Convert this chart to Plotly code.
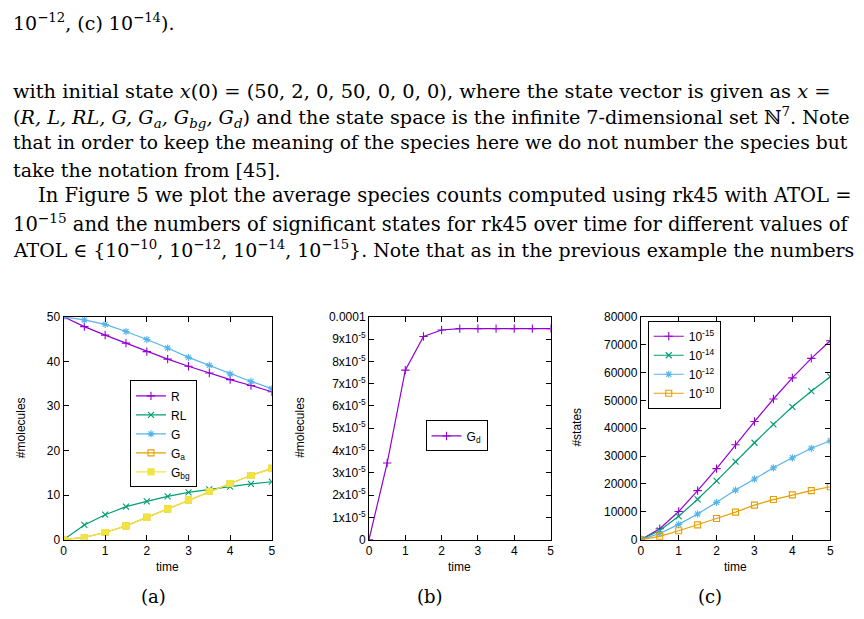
import plotly.graph_objects as go

W, H = 864, 619

# ---------------- data ----------------
t = [0, 0.5, 1, 1.5, 2, 2.5, 3, 3.5, 4, 4.5, 5]

R   = [50, 47.8, 45.9, 44.1, 42.2, 40.5, 38.9, 37.4, 35.9, 34.6, 33.2]
RL  = [0, 3.3, 5.6, 7.4, 8.6, 9.7, 10.6, 11.3, 11.9, 12.5, 13.0]
G   = [50, 49.3, 48.3, 46.7, 44.9, 43.0, 40.9, 39.1, 37.2, 35.5, 33.9]
Ga  = [0, 0.5, 1.6, 3.1, 5.0, 6.9, 8.9, 10.8, 12.6, 14.4, 16.0]
Gbg = [0, 0.5, 1.6, 3.1, 5.0, 6.9, 8.9, 10.8, 12.6, 14.4, 16.0]

Gd = [0, 3.44e-5, 7.61e-5, 9.12e-5, 9.41e-5, 9.47e-5, 9.47e-5, 9.47e-5, 9.47e-5, 9.47e-5, 9.47e-5]

S15 = [0, 3900, 10100, 17600, 25500, 34100, 42400, 50500, 58100, 65100, 71400]
S14 = [0, 3300, 8400, 14500, 21100, 28000, 34800, 41400, 47700, 53300, 58500]
S12 = [0, 2200, 5500, 9200, 13400, 17800, 21800, 25800, 29400, 32800, 35500]
S10 = [0, 1200, 3200, 5300, 7600, 9900, 12400, 14400, 16100, 17600, 19000]

gd_ticks = [0, 1e-5, 2e-5, 3e-5, 4e-5, 5e-5, 6e-5, 7e-5, 8e-5, 9e-5, 1e-4]
gd_ticktext = ["0"] + [f"{i}x10<sup>-5</sup>" for i in range(1, 10)] + ["0.0001"]

# ---------------- style ----------------
PURPLE, GREEN, BLUE, ORANGE, YELLOW = "#9400D3", "#009E73", "#56B4E9", "#E69F00", "#F0E442"
SANS = "Liberation Sans"
SERIF = "DejaVu Serif"

def px(x):
    return x / W

def py(y):
    return 1 - y / H

fig = go.Figure()

def add(x, y, name, color, symbol, xa, ya, legend, size=6):
    fig.add_trace(go.Scatter(
        x=x, y=y, name=name, mode="lines+markers", xaxis=xa, yaxis=ya, legend=legend,
        line=dict(color=color, width=1.2),
        marker=dict(symbol=symbol, size=size, color=color, line=dict(color=color, width=1.1)),
    ))

add(t, R, "R", PURPLE, "cross-thin", "x", "y", "legend")
add(t, RL, "RL", GREEN, "x-thin", "x", "y", "legend")
add(t, G, "G", BLUE, "asterisk", "x", "y", "legend")
add(t, Ga, "G<sub>a</sub>", ORANGE, "square-open", "x", "y", "legend", 6)
add(t, Gbg, "G<sub>bg</sub>", YELLOW, "square", "x", "y", "legend", 6)

add(t, Gd, "G<sub>d</sub>", PURPLE, "cross-thin", "x2", "y2", "legend2")

add(t, S15, "10<sup>-15</sup>", PURPLE, "cross-thin", "x3", "y3", "legend3")
add(t, S14, "10<sup>-14</sup>", GREEN, "x-thin", "x3", "y3", "legend3")
add(t, S12, "10<sup>-12</sup>", BLUE, "asterisk", "x3", "y3", "legend3")
add(t, S10, "10<sup>-10</sup>", ORANGE, "square-open", "x3", "y3", "legend3", 6)

axcommon = dict(showline=True, mirror="allticks", ticks="inside", ticklen=5, linecolor="black",
                linewidth=1, tickcolor="black", showgrid=False, zeroline=False,
                tickfont=dict(family=SANS, size=12, color="black"))

ytop, ybot = py(317), py(545)
legstyle = dict(xanchor="left", yanchor="top", bordercolor="black", borderwidth=1, bgcolor="white",
                font=dict(family=SANS, size=12, color="black"), itemwidth=30, tracegroupgap=0)
fig.update_layout(
    width=W, height=H, margin=dict(l=0, r=0, t=0, b=0),
    paper_bgcolor="white", plot_bgcolor="white",
    xaxis=dict(domain=[px(61), px(271)], range=[0, 5], dtick=1, anchor="y", **axcommon),
    yaxis=dict(domain=[ybot, ytop], range=[0, 50], dtick=10, anchor="x", **axcommon),
    xaxis2=dict(domain=[px(369), px(552)], range=[0, 5], dtick=1, anchor="y2", **axcommon),
    yaxis2=dict(domain=[ybot, ytop], range=[0, 1e-4], tickvals=gd_ticks, ticktext=gd_ticktext,
                anchor="x2", **axcommon),
    xaxis3=dict(domain=[px(643), px(834)], range=[0, 5], dtick=1, anchor="y3", **axcommon),
    yaxis3=dict(domain=[ybot, ytop], range=[0, 80000], dtick=10000, tickformat="d",
                anchor="x3", **axcommon),
    legend=dict(x=px(128), y=py(382), **legstyle),
    legend2=dict(x=px(426), y=py(423), **legstyle),
    legend3=dict(x=px(650), y=py(321), **legstyle),
    showlegend=True,
)

ann = []
def note(x, y, text, size, family, xanchor="center", angle=0):
    ann.append(dict(x=px(x), y=py(y), xref="paper", yref="paper", text=text, showarrow=False,
                    xanchor=xanchor, yanchor="middle", textangle=angle,
                    font=dict(family=family, size=size, color="black")))

# axis titles
note(18, 430, "#molecules", 12, SANS, angle=-90)
note(300, 430, "#molecules", 12, SANS, angle=-90)
note(579, 430, "#states", 12, SANS, angle=-90)
note(166, 573, "time", 12, SANS)
note(460, 573, "time", 12, SANS)
note(738, 573, "time", 12, SANS)
note(152, 603, "(a)", 18, SERIF)
note(430, 603, "(b)", 18, SERIF)
note(713, 603, "(c)", 18, SERIF)

# body text (x, y, font size, text)
lines = [
    (8, 15, 19, "10<sup>−12</sup>, (c) 10<sup>−14</sup>)."),
    (8, 86, 19.4, "with initial state <i>x</i>(0) = (50, 2, 0, 50, 0, 0, 0), where the state vector is given as <i>x</i> ="),
    (8, 113, 19.2, "(<i>R, L, RL, G, G<sub>a</sub>, G<sub>bg</sub>, G<sub>d</sub></i>) and the state space is the infinite 7-dimensional set ℕ<sup>7</sup>. Note"),
    (8, 139, 18.7, "that in order to keep the meaning of the species here we do not number the species but"),
    (8, 167, 19, "take the notation from [45]."),
    (33, 193, 19.5, "In Figure 5 we plot the average species counts computed using rk45 with ATOL ="),
    (8, 221, 19.5, "10<sup>−15</sup> and the numbers of significant states for rk45 over time for different values of"),
    (8, 248, 18.9, "ATOL ∈ {10<sup>−10</sup>, 10<sup>−12</sup>, 10<sup>−14</sup>, 10<sup>−15</sup>}. Note that as in the previous example the numbers"),
]
for x, y, s, txt in lines:
    note(x, y, txt, s, SERIF, xanchor="left")

fig.update_layout(annotations=ann)
fig.write_html("out.html")
